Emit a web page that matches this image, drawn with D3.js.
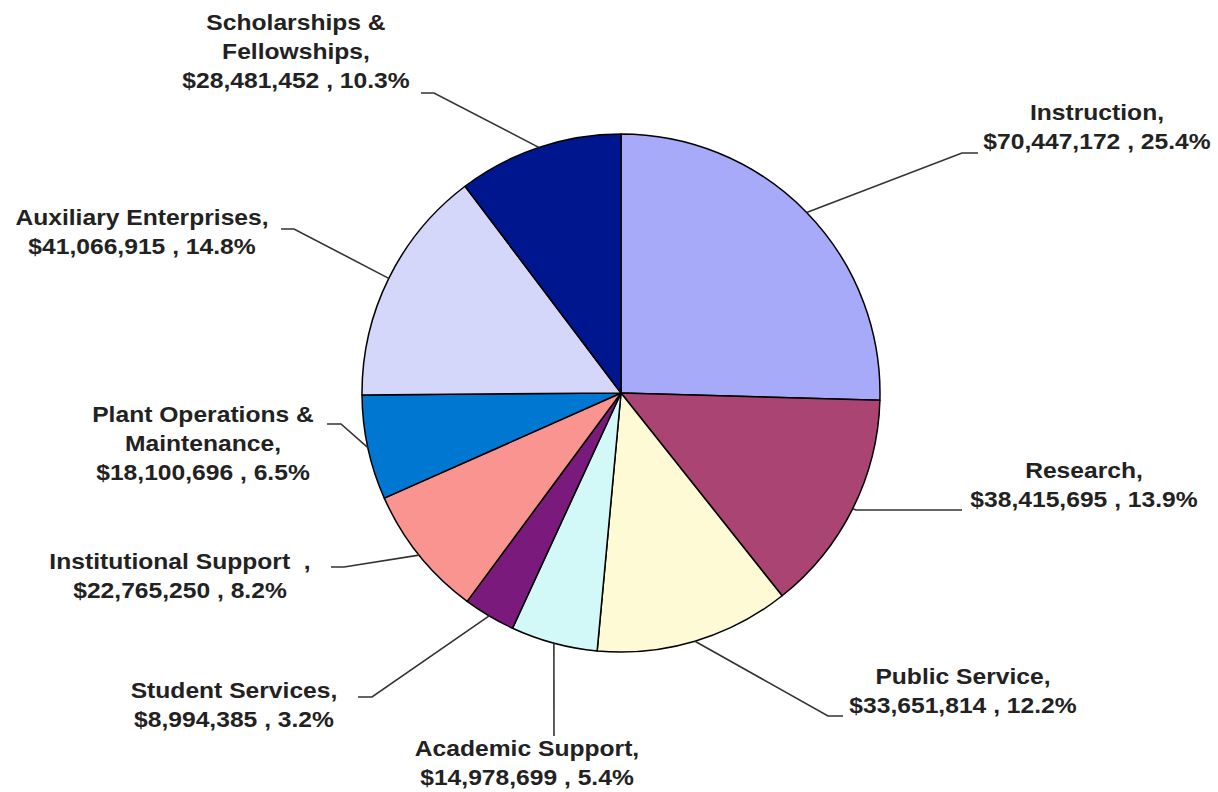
<!DOCTYPE html>
<html>
<head>
<meta charset="utf-8">
<script src="https://cdn.jsdelivr.net/npm/d3@7"></script>
<style>
  html, body { margin: 0; padding: 0; background: #fff; }
  svg text { font-family: "Liberation Sans", Arial, sans-serif; font-weight: bold; fill: #222; }
</style>
</head>
<body>
<svg id="chart" width="1218" height="792"></svg>
<script>
// data, clockwise from 12 o'clock
var categories = ["Instruction,", "Research,", "Public Service,", "Academic Support,", "Student Services,",
  "Institutional Support  ,", "Plant Operations &\nMaintenance,", "Auxiliary Enterprises,", "Scholarships &\nFellowships,"];
var amounts = [70447172, 38415695, 33651814, 14978699, 8994385, 22765250, 18100696, 41066915, 28481452];
var percents = [25.4, 13.9, 12.2, 5.4, 3.2, 8.2, 6.5, 14.8, 10.3];
var colors = ["#a6aaf9", "#aa4573", "#fffad6", "#d2f8f8", "#7a1a7c", "#fa9490", "#0078d2", "#d4d6fa", "#00168e"];

// label layout: text centre x, first baseline y, leader elbow and end
var labelLayout = [
  { x: 1097, y: 120, elbow: [962, 153], end: [978, 153] },
  { x: 1084, y: 478, elbow: [856, 510], end: [962, 510] },
  { x: 963, y: 684, elbow: [828, 716], end: [843, 716] },
  { x: 527, y: 756, elbow: [554, 736], end: [554, 736] },
  { x: 234, y: 698, elbow: [372, 697], end: [358, 697] },
  { x: 180, y: 569, elbow: [344, 567], end: [331, 567] },
  { x: 203, y: 422, elbow: [341, 424], end: [327, 424] },
  { x: 142, y: 225, elbow: [294, 229], end: [281, 229] },
  { x: 296, y: 30, elbow: [434, 93], end: [421, 93] }
];

var cx = 621, cy = 393, radius = 259;
var lineH = 29, stretch = 1.12;

var svg = d3.select("#chart");
var g = svg.append("g").attr("transform", "translate(" + cx + "," + cy + ")");

var pie = d3.pie().sort(null).value(function (d) { return d; });
var arcs = pie(amounts);
var arc = d3.arc().innerRadius(0).outerRadius(radius);

g.selectAll("path.slice")
  .data(arcs)
  .enter().append("path")
  .attr("class", "slice")
  .attr("d", arc)
  .attr("fill", function (d, i) { return colors[i]; })
  .attr("stroke", "#000")
  .attr("stroke-width", 1.5)
  .attr("stroke-linejoin", "round");

// leader lines from the middle of each slice's rim
svg.selectAll("polyline.leader")
  .data(arcs)
  .enter().append("polyline")
  .attr("class", "leader")
  .attr("fill", "none")
  .attr("stroke", "#333")
  .attr("stroke-width", 1.6)
  .attr("points", function (d, i) {
    var a = (d.startAngle + d.endAngle) / 2;
    var p0 = [cx + radius * Math.sin(a), cy - radius * Math.cos(a)];
    var L = labelLayout[i];
    return [p0, L.elbow, L.end].map(function (p) { return p.join(","); }).join(" ");
  });

var fmt = d3.format(",");
var labels = svg.selectAll("g.label")
  .data(arcs)
  .enter().append("g")
  .attr("class", "label")
  .attr("transform", function (d, i) {
    return "translate(" + labelLayout[i].x + "," + labelLayout[i].y + ") scale(" + stretch + ",1)";
  });

labels.each(function (d, i) {
  var lines = categories[i].split("\n");
  lines.push("$" + fmt(amounts[i]) + " , " + percents[i].toFixed(1) + "%");
  d3.select(this).selectAll("text")
    .data(lines)
    .enter().append("text")
    .attr("text-anchor", "middle")
    .attr("x", 0)
    .attr("y", function (t, j) { return j * lineH; })
    .attr("font-size", 22)
    .style("white-space", "pre")
    .text(function (t) { return t; });
});
</script>
</body>
</html>
